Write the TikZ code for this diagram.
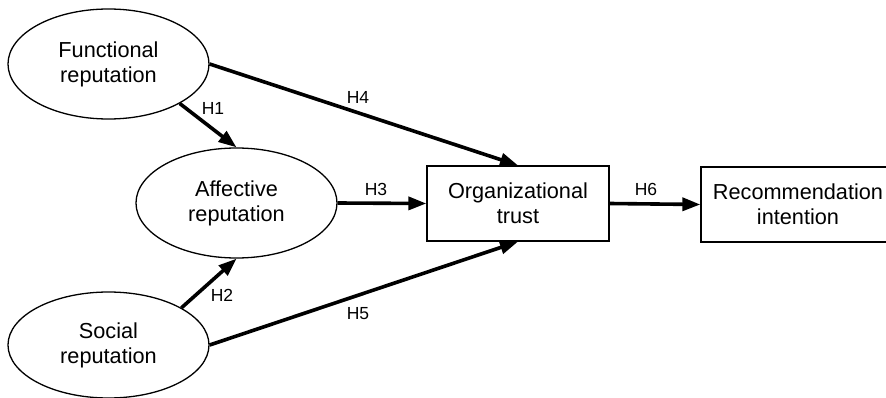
\documentclass[tikz,border=0pt]{standalone}
\usepackage{fontspec}
\setmainfont{Liberation Sans}
\usetikzlibrary{shapes.geometric,arrows.meta}
\begin{document}
\begin{tikzpicture}[x=1pt,y=-1pt,
  construct/.style={draw=black,line width=1.3pt,ellipse,minimum width=201pt,minimum height=110pt,inner sep=0pt,align=center,font=\fontsize{21.7}{25}\selectfont},
  boxnode/.style={draw=black,line width=1.3pt,rectangle,minimum height=75pt,inner sep=0pt,align=center,font=\fontsize{21.7}{25}\selectfont},
  path/.style={line width=3.6pt,-{Triangle[length=18pt,width=13pt]}},
  hlabel/.style={font=\fontsize{17.5}{20}\selectfont,inner sep=0pt}]
\useasboundingbox (0,0) rectangle (886,398);
\node[construct] (func) at (108.5,64) {Functional\\reputation};
\node[construct] (aff) at (236.5,203) {Affective\\reputation};
\node[construct,minimum height=106pt] (soc) at (108.5,345) {Social\\reputation};
\node[boxnode,minimum width=182pt] (org) at (518,203.5) {Organizational\\trust};
\node[boxnode,minimum width=194pt] (rec) at (798,204.5) {Recommendation\\intention};
\draw[path] (func.-29) -- (aff.north);
\draw[path] (soc.27) -- (aff.south);
\draw[path] (func.east) -- (org.north);
\draw[path] (soc.east) -- (org.south);
\draw[path] (aff.east) -- (org.west);
\draw[path] (org.east) -- (rec.west);
\node[hlabel] (h1) at (213,108) {H1};
\node[hlabel] (h2) at (222,295) {H2};
\node[hlabel] (h3) at (376,189) {H3};
\node[hlabel] (h4) at (358,97) {H4};
\node[hlabel] (h5) at (358,314) {H5};
\node[hlabel] (h6) at (646,189) {H6};
\end{tikzpicture}
\end{document}
